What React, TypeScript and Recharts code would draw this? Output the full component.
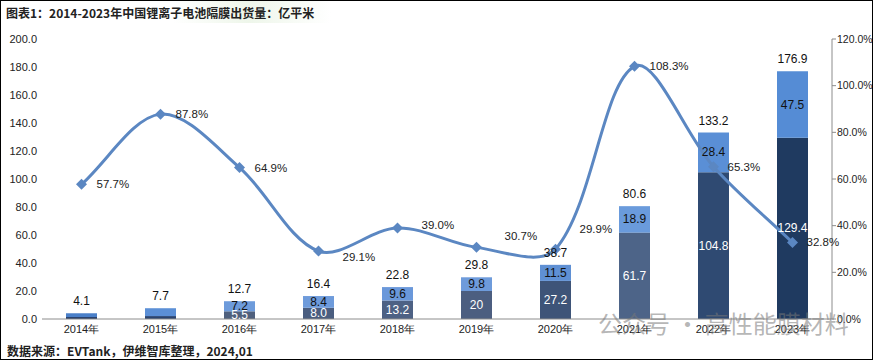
import React from "react";
import {
  ComposedChart,
  Bar,
  Line,
  XAxis,
  YAxis,
  Cell,
  LabelList,
} from "recharts";

// 2014-2023 separator shipments (亿平米) and growth
const years = ["2014年", "2015年", "2016年", "2017年", "2018年", "2019年", "2020年", "2021年", "2022年", "2023年"];
const wetVolume = [1.4, 2.1, 5.5, 8.0, 13.2, 20, 27.2, 61.7, 104.8, 129.4];
const dryVolume = [2.7, 5.6, 7.2, 8.4, 9.6, 9.8, 11.5, 18.9, 28.4, 47.5];
const totals = [4.1, 7.7, 12.7, 16.4, 22.8, 29.8, 38.7, 80.6, 133.2, 176.9];
const growth = [57.7, 87.8, 64.9, 29.1, 39.0, 30.7, 29.9, 108.3, 65.3, 32.8];
const wetLabels = ["", "", "5.5", "8.0", "13.2", "20", "27.2", "61.7", "104.8", "129.4"];
const dryLabels = ["", "", "7.2", "8.4", "9.6", "9.8", "11.5", "18.9", "28.4", "47.5"];
const leftTicks = [0, 20, 40, 60, 80, 100, 120, 140, 160, 180, 200];
const rightTicks = [0, 20, 40, 60, 80, 100, 120];

const data = years.map((year, i) => ({
  year,
  wet: wetVolume[i],
  dry: dryVolume[i],
  total: totals[i],
  growth: growth[i],
  wetLabel: wetLabels[i],
  dryLabel: dryLabels[i],
}));

const darkColors = ["#203864", "#2a4470", "#4f607d", "#4a5d7f", "#4d6184", "#4c5e80", "#3e5478", "#4d6488", "#2f4a72", "#1f3a60"];
const lightColors = ["#4a7fc8", "#5b8fd6", "#6d9bdb", "#6e9bdb", "#6a98da", "#6e9bdb", "#5f90d4", "#6a9bdc", "#5a8fd6", "#558cd5"];
const lineColor = "#5b87c2";
const font = "'Liberation Sans', Arial, sans-serif";

// excel-like smoothed line: tangents split by neighbouring segment lengths
const smoothCurve = (context: any) => {
  let pts: number[][] = [];
  const t = 1 / 3;
  return {
    areaStart() {},
    areaEnd() {},
    lineStart() {
      pts = [];
    },
    point(x: number, y: number) {
      pts.push([+x, +y]);
    },
    lineEnd() {
      const n = pts.length;
      if (!n) return;
      const cin: number[][] = [];
      const cout: number[][] = [];
      for (let i = 0; i < n; i++) {
        const p = pts[i];
        const a = pts[i - 1] || p;
        const b = pts[i + 1] || p;
        const d1 = Math.hypot(p[0] - a[0], p[1] - a[1]);
        const d2 = Math.hypot(b[0] - p[0], b[1] - p[1]);
        const s = d1 + d2 || 1;
        const vx = b[0] - a[0];
        const vy = b[1] - a[1];
        cin.push([p[0] - vx * t * (d1 / s), p[1] - vy * t * (d1 / s)]);
        cout.push([p[0] + vx * t * (d2 / s), p[1] + vy * t * (d2 / s)]);
      }
      context.moveTo(pts[0][0], pts[0][1]);
      for (let i = 0; i < n - 1; i++) {
        context.bezierCurveTo(cout[i][0], cout[i][1], cin[i + 1][0], cin[i + 1][1], pts[i + 1][0], pts[i + 1][1]);
      }
    },
  };
};

const Diamond = (props: any) => {
  const { cx, cy } = props;
  if (cx == null || cy == null) return null;
  const r = 5.5;
  return (
    <path
      d={`M${cx},${cy - r}L${cx + r},${cy}L${cx},${cy + r}L${cx - r},${cy}Z`}
      fill={lineColor}
    />
  );
};

const growthDx = [15, 15, 15, 24, 24, 28, 24, 15, 14, 14];
const growthDy = [0, 0, 0, 6, -3, -11, -20, 0, 0, 0];

const GrowthLabel = (props: any) => {
  const { x, y, index, value } = props;
  return (
    <text
      x={x + growthDx[index]}
      y={y + growthDy[index]}
      dominantBaseline="central"
      fontSize={11.5}
      fontFamily={font}
      fill="#222"
    >
      {value.toFixed(1)}%
    </text>
  );
};

const segLabel = (color: string) => (props: any) => {
  const { x, y, width, height, value } = props;
  if (!value) return null;
  return (
    <text
      x={x + width / 2}
      y={y + height / 2}
      textAnchor="middle"
      dominantBaseline="central"
      fontSize={12}
      fontFamily={font}
      fill={color}
    >
      {value}
    </text>
  );
};

export default function App() {
  return (
    <div
      style={{
        position: "absolute",
        left: 0,
        top: 0,
        width: 873,
        height: 360,
        background: "#fff",
        border: "1px solid #000",
        boxSizing: "border-box",
        overflow: "hidden",
      }}
    >
      <div
        style={{
          position: "absolute",
          left: 0,
          top: 0,
          width: 330,
          height: 22,
          background: "linear-gradient(to right, #fff 0%, #fff 52%, #eef6ea 75%, #fff 100%)",
        }}
      />
      <div
        style={{
          position: "absolute",
          left: 5,
          top: 3,
          fontSize: 12,
          fontWeight: "bold",
          fontFamily: "'Noto Sans CJK SC', sans-serif",
          color: "#222",
          whiteSpace: "nowrap",
        }}
      >
        图表1：2014-2023年中国锂离子电池隔膜出货量：亿平米
      </div>
      <div style={{ position: "absolute", left: -1, top: -1 }}>
        <ComposedChart
          width={873}
          height={360}
          data={data}
          margin={{ top: 39, right: 0, left: 0, bottom: 21 }}
        >
          <XAxis
            dataKey="year"
            axisLine={{ stroke: "#8c8c8c" }}
            tickLine={false}
            tickSize={4}
            tickMargin={2}
            height={20}
            tick={{ fontSize: 11, fill: "#222", fontFamily: font }}
          />
          <YAxis
            yAxisId="left"
            domain={[0, 200]}
            ticks={leftTicks}
            axisLine={false}
            tickLine={false}
            tickSize={3}
            tickMargin={2}
            width={42}
            interval={0}
            tickFormatter={(v: number) => v.toFixed(1)}
            tick={{ fontSize: 11, fill: "#222", fontFamily: font }}
          />
          <YAxis
            yAxisId="right"
            orientation="right"
            domain={[0, 120]}
            ticks={rightTicks}
            axisLine={{ stroke: "#8c8c8c" }}
            tickLine={{ stroke: "#8c8c8c" }}
            tickSize={4}
            tickMargin={1}
            width={41}
            interval={0}
            tickFormatter={(v: number) => v.toFixed(1) + "%"}
            tick={{ fontSize: 10.5, fill: "#222", fontFamily: font }}
          />
          <Bar yAxisId="left" dataKey="wet" stackId="a" barSize={31} isAnimationActive={false}>
            {data.map((_, i) => (
              <Cell key={i} fill={darkColors[i]} />
            ))}
            <LabelList dataKey="wetLabel" content={segLabel("#fff")} />
          </Bar>
          <Bar yAxisId="left" dataKey="dry" stackId="a" barSize={31} isAnimationActive={false}>
            {data.map((_, i) => (
              <Cell key={i} fill={lightColors[i]} />
            ))}
            <LabelList dataKey="dryLabel" content={segLabel("#111")} />
            <LabelList
              dataKey="total"
              position="top"
              offset={8}
              formatter={(v: any) => Number(v).toFixed(1)}
              style={{ fontSize: 12, fill: "#111", fontFamily: font }}
            />
          </Bar>
          <Line
            yAxisId="right"
            dataKey="growth"
            type={smoothCurve as any}
            stroke={lineColor}
            strokeWidth={3}
            dot={<Diamond />}
            activeDot={false}
            isAnimationActive={false}
          >
            <LabelList dataKey="growth" content={<GrowthLabel />} />
          </Line>
        </ComposedChart>
      </div>
      <div
        style={{
          position: "absolute",
          left: 597,
          top: 304,
          fontSize: 24,
          fontFamily: "'Noto Sans CJK SC', sans-serif",
          color: "rgba(120,120,120,0.55)",
          whiteSpace: "nowrap",
          pointerEvents: "none",
        }}
      >
        公众号 · 高性能膜材料
      </div>
      <div
        style={{
          position: "absolute",
          left: 6,
          top: 341,
          fontSize: 12,
          fontWeight: "bold",
          fontFamily: "'Noto Sans CJK SC', sans-serif",
          color: "#222",
          whiteSpace: "nowrap",
        }}
      >
        数据来源：EVTank，伊维智库整理，2024,01
      </div>
    </div>
  );
}
